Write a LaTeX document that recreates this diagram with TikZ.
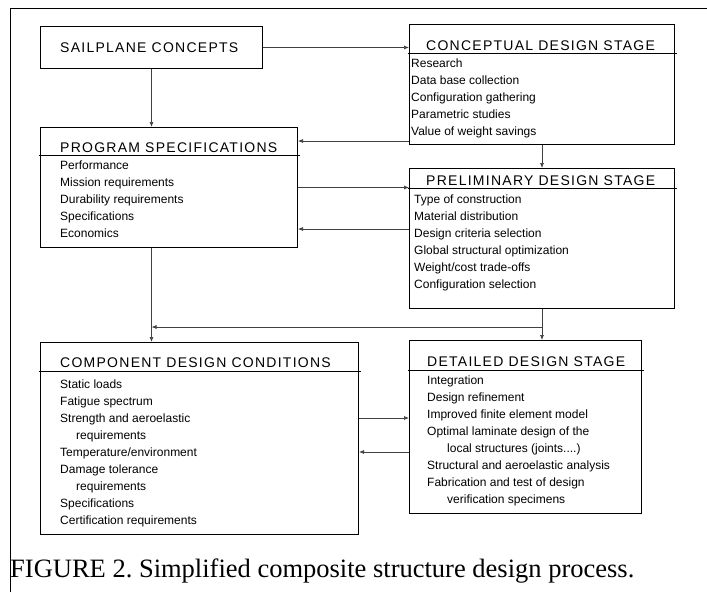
\documentclass[tikz,border=0pt]{standalone}
\usepackage{fontspec}
\setmainfont{Liberation Serif}
\newfontfamily\boxfont{Liberation Sans}
\newfontfamily\headfont[LetterSpace=9]{Liberation Sans}
\usetikzlibrary{positioning,%
  arrows.meta,%
  calc}

\begin{document}
\begin{tikzpicture}
  [
    x=1pt, y=-1pt,
    stagebox/.style={draw, rectangle, line width=1pt, inner sep=0pt, anchor=north west},
    headtext/.style={anchor=base west, inner sep=0pt, font=\headfont\fontsize{14}{14}\selectfont},
    itemtext/.style={anchor=north west, inner sep=0pt, align=left,
      execute at begin node=\strut, font=\boxfont\fontsize{12}{17}\selectfont},
    divider/.style={line width=.8pt, shorten <=-1.5pt, shorten >=-1.5pt},
    flow/.style={-{Latex[length=5pt,width=4pt]}, line width=.7pt, black!75}
  ]

  % Rahmen
  \useasboundingbox (0,0) rectangle (707,592);
  \draw[line width=1pt] (10,592) -- (10,8) -- (707,8);

  % Kaesten
  \node[stagebox, minimum width=222pt, minimum height=42pt] (sail) at (40,26) {};
  \node[stagebox, minimum width=265pt, minimum height=120pt] (concept) at (409,24) {};
  \node[stagebox, minimum width=257pt, minimum height=120pt] (prog) at (40,127) {};
  \node[stagebox, minimum width=265pt, minimum height=140pt] (prelim) at (409,168) {};
  \node[stagebox, minimum width=318pt, minimum height=192pt] (comp) at (40,342) {};
  \node[stagebox, minimum width=232pt, minimum height=173pt] (detail) at (409,340) {};

  \node[headtext] (sailhead) at (60,52) {SAILPLANE CONCEPTS};

  \node[headtext] (concepthead) at (426,50) {CONCEPTUAL DESIGN STAGE};
  \draw[divider] (concept.west |- 0,53) -- (concept.east |- 0,53);
  \node[itemtext] (conceptitems) at (411,59) {Research\\Data base collection\\Configuration gathering\\Parametric studies\\Value of weight savings};

  \node[headtext] (proghead) at (60,152) {PROGRAM SPECIFICATIONS};
  \draw[divider] (prog.west |- 0,155) -- (prog.east |- 0,155);
  \node[itemtext] (progitems) at (60,161) {Performance\\Mission requirements\\Durability requirements\\Specifications\\Economics};

  \node[headtext] (prelimhead) at (426,185) {PRELIMINARY DESIGN STAGE};
  \draw[divider] (prelim.west |- 0,188) -- (prelim.east |- 0,188);
  \node[itemtext] (prelimitems) at (414,195) {Type of construction\\Material distribution\\Design criteria selection\\Global structural optimization\\Weight/cost trade-offs\\Configuration selection};

  \node[headtext] (comphead) at (60,367) {COMPONENT DESIGN CONDITIONS};
  \draw[divider] (comp.west |- 0,371) -- (comp.east |- 0,371);
  \node[itemtext] (compitems) at (60,380) {Static loads\\Fatigue spectrum\\Strength and aeroelastic\\\hspace*{16pt}requirements\\Temperature/environment\\Damage tolerance\\\hspace*{16pt}requirements\\Specifications\\Certification requirements};

  \node[headtext] (detailhead) at (427,366) {DETAILED DESIGN STAGE};
  \draw[divider] (detail.west |- 0,370) -- (detail.east |- 0,370);
  \node[itemtext] (detailitems) at (427,376) {Integration\\Design refinement\\Improved finite element model\\Optimal laminate design of the\\\hspace*{20pt}local structures (joints....)\\Structural and aeroelastic analysis\\Fabrication and test of design\\\hspace*{20pt}verification specimens};

  % Verbindungen
  \coordinate (c1) at ($(concept.south west)+(0,-4)$);
  \coordinate (p1) at ($(prog.south east)+(0,-19)$);
  \coordinate (split) at ($(prelim.south)+(0,18)$);
  \coordinate (c2) at ($(comp.north east)+(0,76)$);
  \coordinate (c3) at ($(comp.north east)+(0,110)$);

  \draw[flow] (sail.east) -- (sail.east -| concept.west);
  \draw[flow] (sail.south) -- (sail.south |- prog.north);
  \draw[flow] (c1) -- (c1 -| prog.east);
  \draw[flow] (prog.east) -- (prog.east -| prelim.west);
  \draw[flow] (p1 -| prelim.west) -- (p1);
  \draw[flow] (concept.south) -- (prelim.north);
  \draw[flow] (sail.south |- prog.south) -- (sail.south |- comp.north);
  \draw[flow] (prelim.south) -- (prelim.south |- detail.north);
  \draw[flow] (split) -- (split -| sail.south);
  \draw[flow] (c2) -- (c2 -| detail.west);
  \draw[flow] (c3 -| detail.west) -- (c3);

  \node[anchor=base west, inner sep=0pt, font=\frenchspacing\fontsize{26.5}{26.5}\selectfont] (caption) at (10,577) {FIGURE 2. Simplified composite structure design process.};
\end{tikzpicture}
\end{document}
